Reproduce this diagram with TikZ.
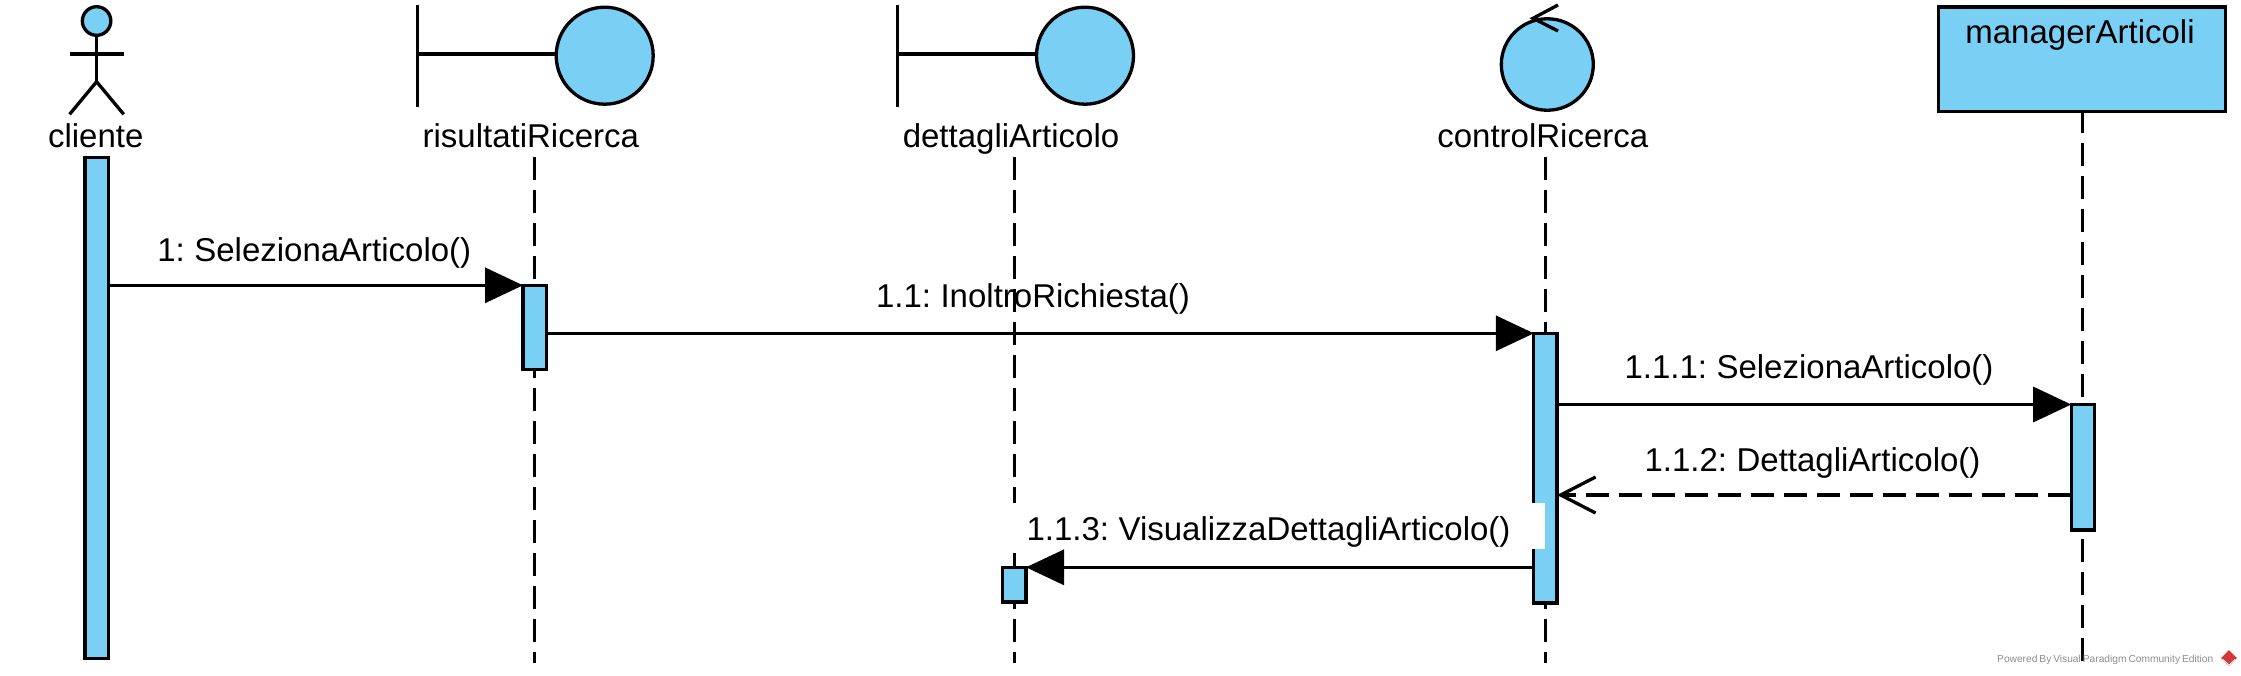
\documentclass[tikz,border=0pt]{standalone}
\usepackage{fontspec}
\setmainfont[WordSpace=0.7]{Liberation Sans}
\usetikzlibrary{arrows.meta,shapes.geometric}
\definecolor{umlblue}{HTML}{7ACFF5}
\definecolor{vpgray}{HTML}{8C8C8C}
\definecolor{vpred}{HTML}{D13A3A}
\tikzset{
  umlfont/.style={font=\fontsize{33}{36}\selectfont},
  lbl/.style={umlfont,anchor=base,inner sep=0pt,text=black},
  activation/.style={draw=black,fill=umlblue,line width=3.3pt,minimum width=23.2pt,inner sep=0pt,outer sep=0pt,anchor=north},
  icon/.style={draw=black,fill=umlblue,line width=3.3pt,inner sep=0pt,outer sep=0pt},
  stroke/.style={draw=black,line width=3.3pt},
  lifeline/.style={draw=black,line width=3.3pt,dash pattern=on 23pt off 10pt},
  syncmsg/.style={draw=black,line width=3.3pt,-{Triangle[length=38pt,width=35pt]}},
  retmsg/.style={draw=black,line width=3.3pt,dash pattern=on 23pt off 10pt,-{Straight Barb[length=35pt,width=36pt,line width=3.3pt]}},
}
\begin{document}
\begin{tikzpicture}[x=1pt,y=-1pt]
\useasboundingbox (0,0) rectangle (2241,675);
% lifelines
\coordinate (rtop) at (534.6,157); \coordinate (rbot) at (534.6,663);
\coordinate (dtop) at (1014.6,157); \coordinate (dbot) at (1014.6,663);
\coordinate (ctop) at (1545.4,157); \coordinate (cbot) at (1545.4,663);
\coordinate (mtop) at (2082.6,110); \coordinate (mbot) at (2082.6,663);
\draw[lifeline] (rtop) -- (rbot);
\draw[lifeline] (dtop) -- (dbot);
\draw[lifeline] (ctop) -- (cbot);
\draw[lifeline] (mtop) -- (mbot);
% actor
\node[icon,ellipse,minimum width=28.5pt,minimum height=28.6pt] (head) at (96.6,21) {};
\coordinate (armL) at (69.6,54); \coordinate (armR) at (123.7,54);
\coordinate (hip) at (96.6,81.7); \coordinate (footL) at (69.6,114.3); \coordinate (footR) at (123.7,114.3);
\draw[stroke] (head.south) -- (hip);
\draw[stroke] (armL) -- (armR);
\draw[stroke] (footL) -- (hip) -- (footR);
\node[lbl] (clabel) at (95.7,147) {cliente};
% boundary 1
\node[icon,ellipse,minimum width=97pt,minimum height=97pt] (b1) at (604.7,55.7) {};
\coordinate (b1top) at (417.4,5); \coordinate (b1bot) at (417.4,107);
\coordinate (b1mid) at (417.4,54);
\draw[stroke] (b1top) -- (b1bot);
\draw[stroke] (b1mid) -- (b1.west |- b1mid);
\node[lbl] (rlabel) at (530.8,147) {risultatiRicerca};
% boundary 2
\node[icon,ellipse,minimum width=97pt,minimum height=97pt] (b2) at (1085,55.7) {};
\coordinate (b2top) at (897.4,5); \coordinate (b2bot) at (897.4,107);
\coordinate (b2mid) at (897.4,54);
\draw[stroke] (b2top) -- (b2bot);
\draw[stroke] (b2mid) -- (b2.west |- b2mid);
\node[lbl] (dlabel) at (1011,147) {dettagliArticolo};
% control
\node[icon,ellipse,minimum width=92pt,minimum height=91.5pt] (ctl) at (1547.3,64.5) {};
\coordinate (chev1) at (1558,5); \coordinate (chevtip) at (1533,18.3); \coordinate (chev2) at (1558,31);
\draw[stroke] (chev1) -- (chevtip) -- (chev2);
\node[lbl] (clab) at (1542.8,147) {controlRicerca};
% manager box
\node[icon,rectangle,anchor=north west,minimum width=287pt,minimum height=104.5pt] (mgr) at (1938.8,7) {};
\node[lbl] (mlab) at (2080,43) {managerArticoli};
% activations
\node[activation,minimum height=501pt] (a0) at (96.6,157.5) {};
\node[activation,minimum height=84pt] (a1) at (534.6,285.3) {};
\node[activation,minimum height=269.7pt] (a2) at (1545.4,333.3) {};
\node[activation,minimum height=125.5pt] (a3) at (2082.8,404.5) {};
\node[activation,minimum height=34.7pt] (a4) at (1014.4,567.3) {};
% message labels
\node[lbl] (l1) at (314.3,261.7) {1: SelezionaArticolo()};
\node[lbl] (l2) at (1033,307) {1.1: InoltroRichiesta()};
\node[lbl] (l3) at (1809,378.7) {1.1.1: SelezionaArticolo()};
\node[lbl] (l4) at (1812.5,471) {1.1.2: DettagliArticolo()};
\node[fill=white,inner sep=0pt,minimum width=553pt,minimum height=45.7pt] (l5bg) at (1268.5,526.2) {};
\node[lbl] (l5) at (1268.5,540.3) {1.1.3: VisualizzaDettagliArticolo()};
% messages
\coordinate (retY) at (0,495);
\draw[syncmsg] (a0.east |- a1.north) -- (a1.north west);
\draw[syncmsg] (a1.east |- a2.north) -- (a2.north west);
\draw[syncmsg] (a2.east |- a3.north) -- (a3.north west);
\draw[retmsg] (a3.west |- retY) -- (a2.east |- retY);
\draw[syncmsg] (a2.west |- a4.north) -- (a4.north east);
% watermark
\node[anchor=base west,inner sep=0pt,text=vpgray,font=\fontsize{10.2}{12}\selectfont] (wm) at (1997,662) {Powered By Visual Paradigm Community Edition};
\node[diamond,fill=vpred,inner sep=0pt,minimum width=16pt,minimum height=16pt] (logo) at (2229,658) {};
\coordinate (lgA) at (2223,659.5); \coordinate (lgB) at (2229,665); \coordinate (lgC) at (2235,659.5);
\draw[white,line width=0.8pt] (lgA) -- (lgB) -- (lgC);
\end{tikzpicture}
\end{document}
